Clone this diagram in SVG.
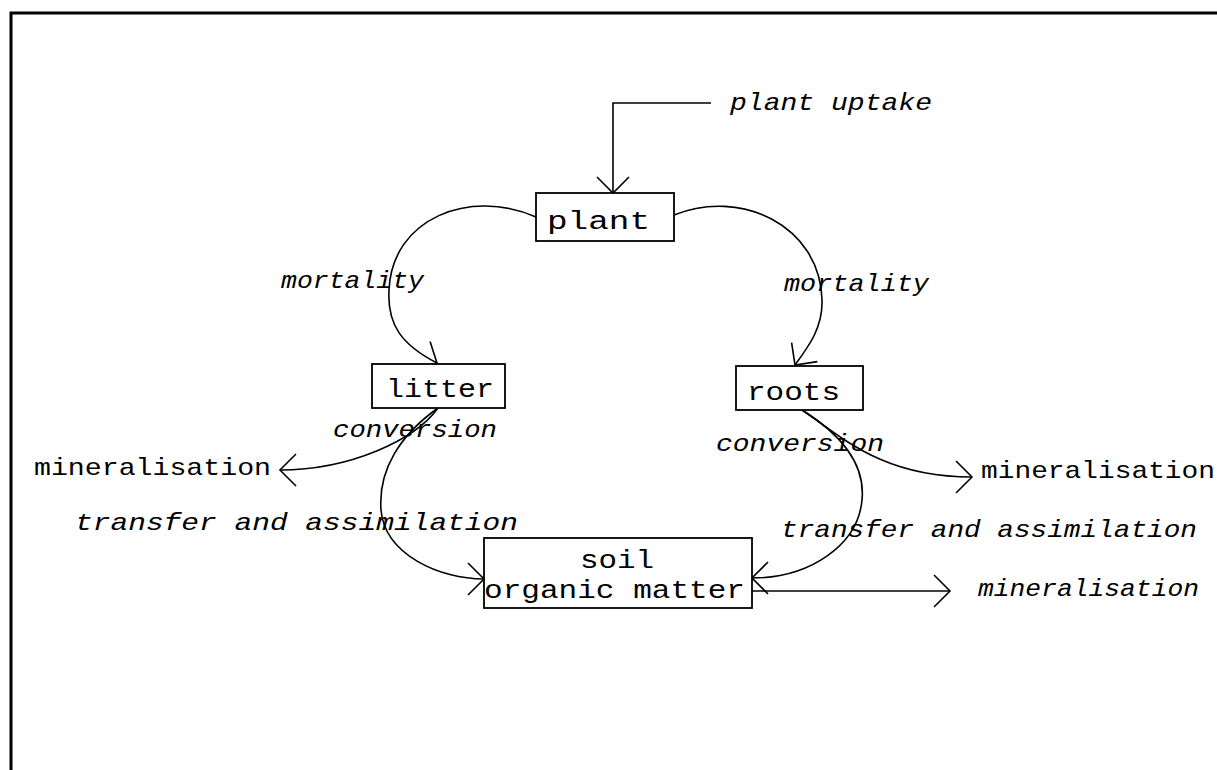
<svg xmlns="http://www.w3.org/2000/svg" width="1217" height="770" viewBox="0 0 1217 770">
  <style>
    .frame { fill: none; stroke: #000; stroke-width: 3; }
    .box { fill: #fff; stroke: #000; stroke-width: 1.8; }
    .flow { fill: none; stroke: #000; stroke-width: 1.6; }
    .name { font-family: "Liberation Mono", "Courier New", monospace; font-size: 26px; fill: #000; }
    .label { font-family: "Liberation Mono", "Courier New", monospace; font-size: 24px; fill: #000; }
    .process { font-family: "Liberation Mono", "Courier New", monospace; font-size: 23px; font-style: italic; fill: #000; }
  </style>
  <defs>
    <marker id="vee" viewBox="-20 -20 24 40" refX="0" refY="0" markerWidth="24" markerHeight="40" markerUnits="userSpaceOnUse" orient="auto" overflow="visible">
      <path d="M -16,-16 L 0,0 L -16,16" fill="none" stroke="#000" stroke-width="1.6"/>
    </marker>
  </defs>

  <rect width="1217" height="770" fill="#fff"/>

  <!-- outer frame: top and left edges only -->
  <path class="frame" d="M 11,770 V 13 H 1217"/>

  <!-- flows between pools -->
  <g id="connectors">
    <path class="flow" d="M 711,103 H 613 V 193" marker-end="url(#vee)"/>
    <path class="flow" d="M 536,217 C 470,188 392,218 389,290 C 387,325 402,345 437,363" marker-end="url(#vee)"/>
    <path class="flow" d="M 674,215 C 740,188 820,225 822,300 C 823,327 809,346 795,365" marker-end="url(#vee)"/>
    <path class="flow" d="M 438,408 C 415,440 350,470 280,470" marker-end="url(#vee)"/>
    <path class="flow" d="M 438,408 C 400,435 378,470 381,510 C 385,555 440,579 484,579" marker-end="url(#vee)"/>
    <path class="flow" d="M 802,410 C 840,435 880,477 972,477" marker-end="url(#vee)"/>
    <path class="flow" d="M 802,410 C 850,440 865,470 862,500 C 858,545 810,578 752,578" marker-end="url(#vee)"/>
    <path class="flow" d="M 752,591 H 950" marker-end="url(#vee)"/>
  </g>

  <!-- flow labels -->
  <g id="labels">
    <text class="process" x="730" y="110" textLength="202" lengthAdjust="spacingAndGlyphs">plant uptake</text>
    <text class="process" x="281" y="288" textLength="143" lengthAdjust="spacingAndGlyphs">mortality</text>
    <text class="process" x="784" y="291" textLength="145" lengthAdjust="spacingAndGlyphs">mortality</text>
    <text class="process" x="333" y="437" textLength="164" lengthAdjust="spacingAndGlyphs">conversion</text>
    <text class="process" x="716" y="451" textLength="168" lengthAdjust="spacingAndGlyphs">conversion</text>
    <text class="process" x="75" y="530" textLength="443" lengthAdjust="spacingAndGlyphs">transfer and assimilation</text>
    <text class="process" x="781" y="537" textLength="416" lengthAdjust="spacingAndGlyphs">transfer and assimilation</text>
    <text class="process" x="978" y="596" textLength="221" lengthAdjust="spacingAndGlyphs">mineralisation</text>
    <text class="label" x="34" y="475" textLength="237" lengthAdjust="spacingAndGlyphs">mineralisation</text>
    <text class="label" x="981" y="478" textLength="234" lengthAdjust="spacingAndGlyphs">mineralisation</text>
  </g>

  <!-- pools -->
  <g id="plant">
    <rect class="box" x="536" y="193" width="138" height="48"/>
    <text class="name" x="547" y="229" textLength="103" lengthAdjust="spacingAndGlyphs">plant</text>
  </g>
  <g id="litter">
    <rect class="box" x="372" y="364" width="133" height="44"/>
    <text class="name" x="386" y="397" textLength="108" lengthAdjust="spacingAndGlyphs">litter</text>
  </g>
  <g id="roots">
    <rect class="box" x="736" y="366" width="127" height="44"/>
    <text class="name" x="747" y="400" textLength="93" lengthAdjust="spacingAndGlyphs">roots</text>
  </g>
  <g id="soil-organic-matter">
    <rect class="box" x="484" y="538" width="268" height="70"/>
    <text class="name" x="580" y="568" textLength="74" lengthAdjust="spacingAndGlyphs">soil</text>
    <text class="name" x="484" y="598" textLength="261" lengthAdjust="spacingAndGlyphs">organic matter</text>
  </g>
</svg>
